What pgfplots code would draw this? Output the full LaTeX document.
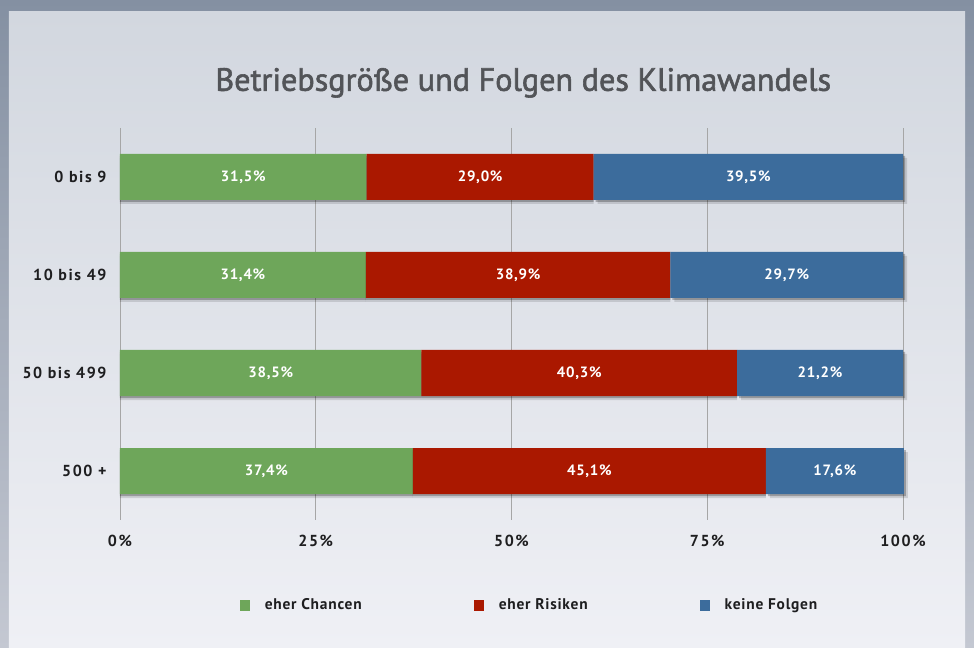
\documentclass[border=0pt]{standalone}
\usepackage{fontspec}
\setmainfont{PT Sans}[LetterSpace=5]
\newfontfamily\tickfont{PT Sans}[LetterSpace=10]
\newfontfamily\titlefont{PT Sans}[FakeBold=1.8]
\usepackage{pgfplots}
\pgfplotsset{compat=1.18}
\usetikzlibrary{shadows}
\definecolor{greenc}{RGB}{110,166,90}
\definecolor{redc}{RGB}{170,24,0}
\definecolor{bluec}{RGB}{60,108,156}
\definecolor{titlec}{RGB}{82,84,88}
\definecolor{txtc}{RGB}{30,30,32}
\definecolor{skytop}{RGB}{132,144,162}
\definecolor{skybot}{RGB}{196,200,210}
\definecolor{paneltop}{RGB}{210,215,223}
\definecolor{panelbot}{RGB}{239,240,245}
\tikzset{
  barshadow/.style={
    drop shadow={shadow xshift=0bp, shadow yshift=-4bp, fill=black, opacity=0.12},
    drop shadow={shadow xshift=0bp, shadow yshift=-2bp, fill=black, opacity=0.25}},
  endshadow/.style={
    drop shadow={shadow xshift=4bp, shadow yshift=-4bp, fill=black, opacity=0.12},
    drop shadow={shadow xshift=2bp, shadow yshift=-2bp, fill=black, opacity=0.25}},
}
\begin{document}
\begin{tikzpicture}[x=1bp,y=1bp]
% backdrop: sky and the light panel
\shade[top color=skytop, bottom color=skybot] (-120,-128) rectangle (854,520);
\shade[top color=paneltop, bottom color=panelbot] (-111,-128) rectangle (845,508);
\begin{axis}[
  scale only axis, width=783bp, height=392bp,
  xbar stacked, reverse stacked plots=false, bar width=46bp,
  xmin=0, xmax=100, ymin=-0.5, ymax=3.5, y dir=reverse,
  clip=false,
  axis line style={draw=none}, major tick length=0pt,
  xtick={0,25,50,75,100}, xticklabels={0\%,25\%,50\%,75\%,100\%},
  ytick={0,1,2,3}, yticklabels={0 bis 9,10 bis 49,50 bis 499,500 +},
  xmajorgrids, grid style={black!35, line width=0.6bp},
  tick label style={font=\tickfont\fontsize{16}{18}\selectfont\bfseries, text=txtc},
  xticklabel style={yshift=-12bp},
  yticklabel style={xshift=-10bp},
  point meta=explicit,
  nodes near coords={\pgfmathprintnumber[fixed, fixed zerofill, precision=1, use comma, assume math mode=true]{\pgfplotspointmeta}\%},
  every node near coord/.append style={text=white, font=\fontsize{15}{17}\selectfont\bfseries},
  title={Betriebsgröße und Folgen des Klimawandels},
  title style={at={(axis description cs:0.515,1.1)}, anchor=center, text=titlec,
    font=\titlefont\fontsize{32.3}{36}\selectfont},
  legend image code/.code={\fill[#1] (0bp,-5.5bp) rectangle (10bp,5.5bp);},
  legend style={at={(axis description cs:0.523,-0.217)}, anchor=center, draw=none, fill=none,
    legend columns=3, font=\fontsize{15.5}{17}\selectfont\bfseries, text=txtc,
    /tikz/every odd column/.append style={column sep=13bp},
    /tikz/every even column/.append style={column sep=110bp}},
]
\addlegendimage{fill=greenc, draw=none}
\addlegendimage{fill=redc, draw=none}
\addlegendimage{fill=bluec, draw=none}
\addplot[fill=greenc, draw=none, barshadow] coordinates {(31.5,0) [31.5] (31.4,1) [31.4] (38.5,2) [38.5] (37.4,3) [37.4]};
\addplot[fill=redc, draw=none, barshadow] coordinates {(29.0,0) [29.0] (38.9,1) [38.9] (40.3,2) [40.3] (45.1,3) [45.1]};
\addplot[fill=bluec, draw=none, endshadow] coordinates {(39.5,0) [39.5] (29.7,1) [29.7] (21.2,2) [21.2] (17.6,3) [17.6]};
\legend{eher Chancen, eher Risiken, keine Folgen}
\end{axis}
\end{tikzpicture}
\end{document}
